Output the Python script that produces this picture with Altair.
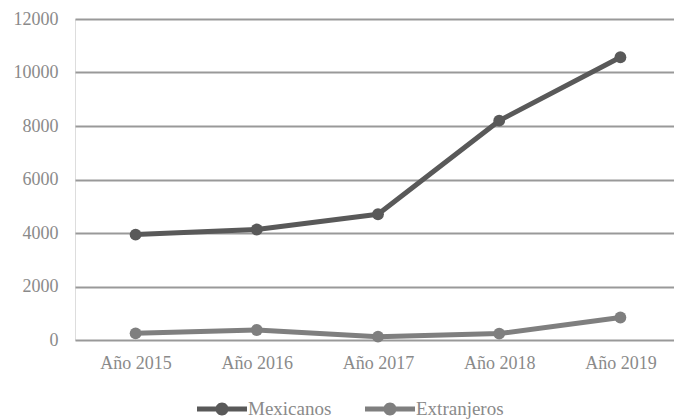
import altair as alt
import pandas as pd

years = ["Año 2015", "Año 2016", "Año 2017", "Año 2018", "Año 2019"]
mexicanos = [3940, 4130, 4700, 8200, 10570]
extranjeros = [250, 375, 125, 240, 840]
series = ["Mexicanos", "Extranjeros"]
colors = ["#595959", "#7f7f7f"]

rows = []
for y, v in zip(years, mexicanos):
    rows.append({"year": y, "serie": series[0], "value": v})
for y, v in zip(years, extranjeros):
    rows.append({"year": y, "serie": series[1], "value": v})
df = pd.DataFrame(rows)

font = "Liberation Serif"
legend_path = ("M-1,-0.1 L1,-0.1 L1,0.1 L-1,0.1 Z "
               "M-0.26,0 A0.26,0.26 0 1,1 0.26,0 A0.26,0.26 0 1,1 -0.26,0 Z")

color = alt.Color(
    "serie:N",
    scale=alt.Scale(domain=series, range=colors),
    sort=series,
    legend=alt.Legend(
        title=None,
        orient="none",
        legendX=122,
        legendY=365,
        direction="horizontal",
        symbolType=legend_path,
        symbolSize=2500,
        symbolStrokeWidth=0,
        symbolOpacity=1,
        labelFont=font,
        labelFontSize=19,
        labelColor="#8a8a8a",
        labelOffset=1,
        columnPadding=33,
        padding=0,
    ),
)

base = alt.Chart(df).encode(
    x=alt.X("year:N", sort=years, title=None,
            scale=alt.Scale(paddingInner=0, paddingOuter=0, range=[0, 606]),
            axis=alt.Axis(labelAngle=0, ticks=False, domain=False, labelPadding=14,
                          labelFont=font, labelFontSize=18, labelColor="#8a8a8a", grid=False)),
    y=alt.Y("value:Q", title=None,
            scale=alt.Scale(domain=[0, 12000], nice=False),
            axis=alt.Axis(values=[0, 2000, 4000, 6000, 8000, 10000, 12000], ticks=False,
                          format="d",
                          domain=False, labelPadding=17, labelFont=font, labelFontSize=18,
                          labelColor="#8a8a8a", gridColor="#999999", gridWidth=2, gridOpacity=1)),
    color=color,
)

lines = base.mark_line(strokeWidth=5, strokeCap="round", strokeJoin="round")
points = base.mark_point(filled=True, size=140, opacity=1)

chart = (lines + points).properties(
    width=599, height=321,
    autosize=alt.AutoSizeParams(type="none"),
    padding={"left": 75, "top": 19, "right": 0, "bottom": 80},
).configure_view(stroke=None).configure(background="white")

chart.save("out.html", embed_options={"renderer": "svg", "actions": False})
